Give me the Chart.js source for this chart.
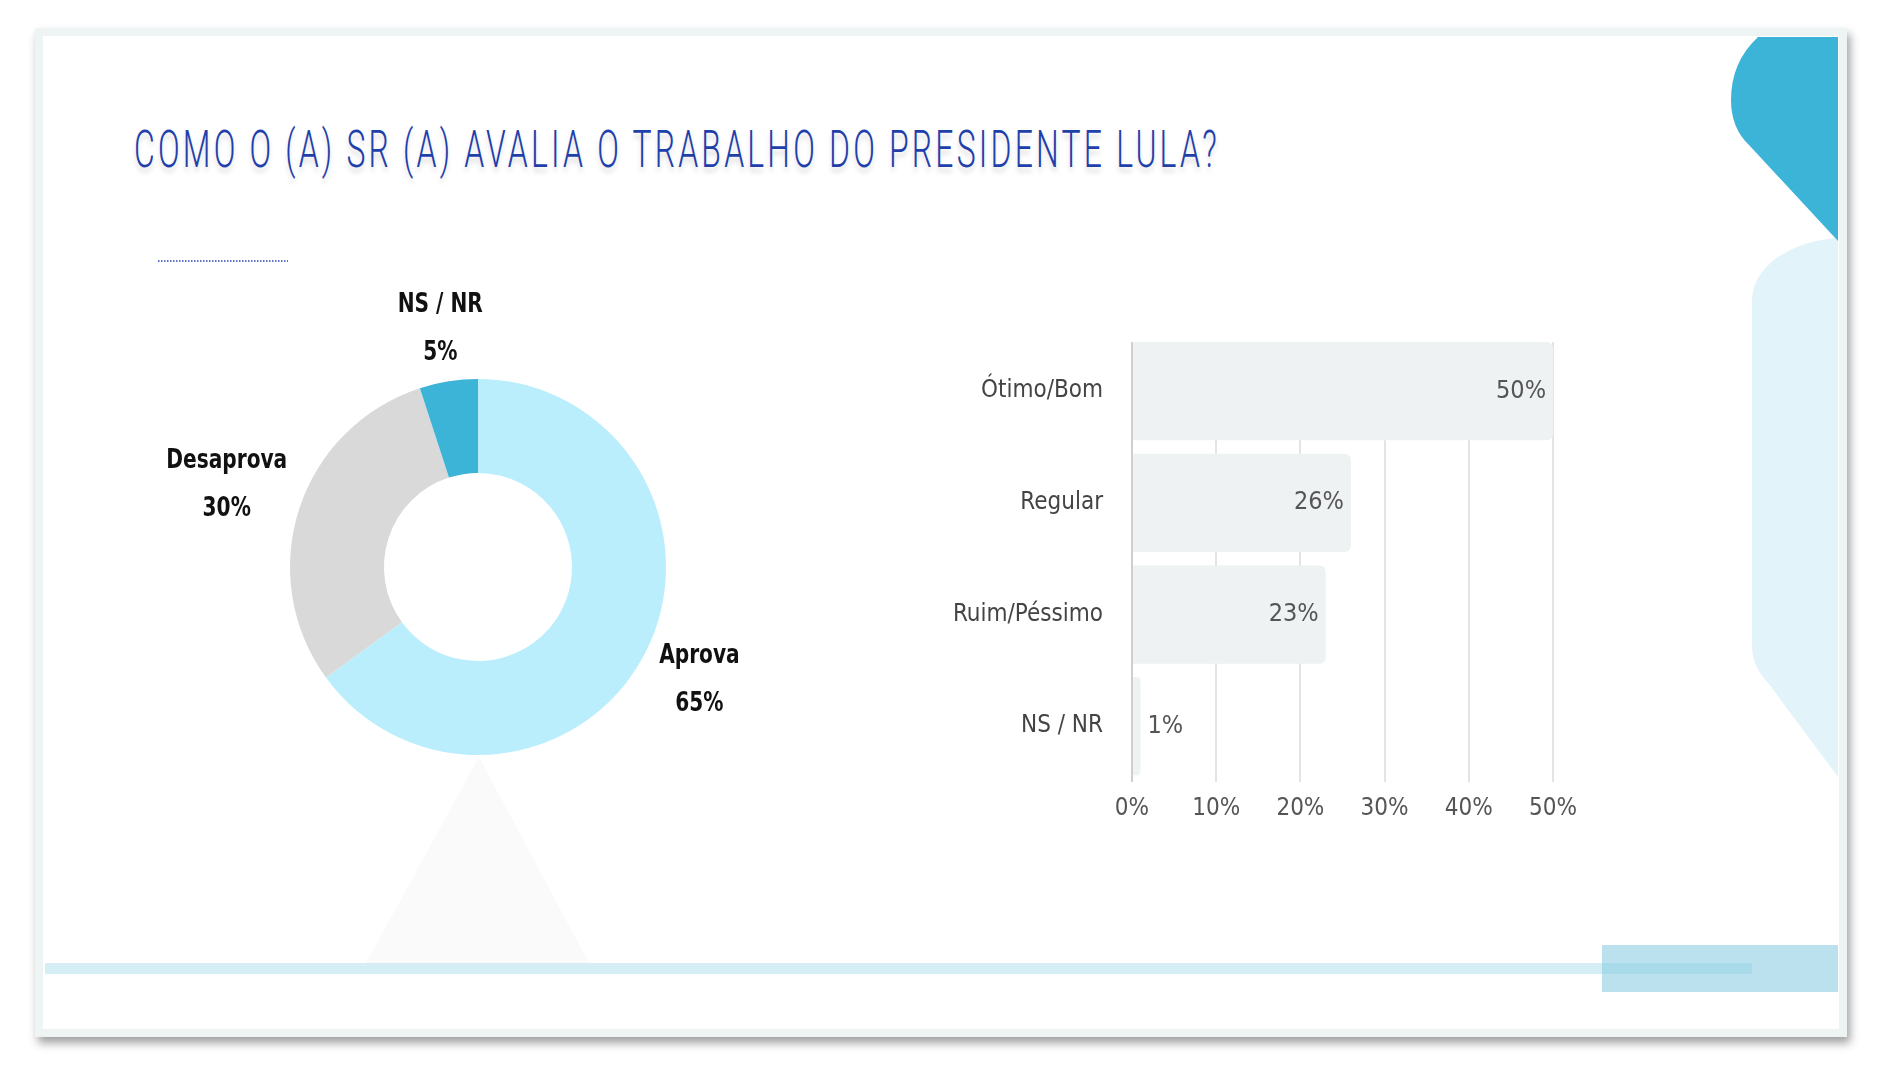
<!DOCTYPE html>
<html>
<head>
<meta charset="utf-8">
<script src="https://cdn.jsdelivr.net/npm/chart.js@4.4.1/dist/chart.umd.min.js"></script>
<style>
  html, body { margin: 0; padding: 0; background: #fff; }
  body { width: 1894px; height: 1080px; position: relative; overflow: hidden; }
  .slide {
    position: absolute; left: 35px; top: 28px; width: 1812px; height: 1009px;
    box-sizing: border-box; border: 8px solid #eef3f3; background: #fff;
    box-shadow: 3px 6px 9px rgba(0, 0, 0, 0.38);
  }
  svg.deco { position: absolute; left: 0; top: 0; }
  .title {
    position: absolute; left: 134px; top: 124px; white-space: nowrap;
    font-family: Roboto, sans-serif; font-weight: 300; font-size: 52px; line-height: 1;
    letter-spacing: 0.1em; color: #1f40ab; transform-origin: 0 0;
    text-shadow: 0 5px 7px rgba(0, 0, 0, 0.14);
  }
  #donutWrap { position: absolute; left: 137px; top: 280px; width: 682px; height: 574px; }
  #barWrap { position: absolute; left: 940px; top: 300px; width: 700px; height: 540px; }
</style>
</head>
<body>
<div class="slide"></div>
<svg class="deco" width="1894" height="1080">
  <!-- faint stand under the donut -->
  <polygon points="479,757 366,963 589,963" fill="#fafafa"/>
  <!-- small dotted rule -->
  <line x1="158" y1="261" x2="288" y2="261" stroke="#5f72c4" stroke-width="2" stroke-dasharray="1.5 1.5"/>
  <!-- right side shapes -->
  <path d="M1838,238 C1798,240 1752,262 1752,302 L1752,645 Q1752,667 1769,684 L1838,777 Z" fill="#e2f4f9"/>
  <path d="M1758,37 L1838,37 L1838,241 L1749,145 Q1731,128 1731,100 Q1731,62 1758,37 Z" fill="#3cb4d7"/>
  <!-- bottom band -->
  <rect x="45" y="963" width="1707" height="11" fill="#d5eef5"/>
  <rect x="1602" y="945" width="236" height="47" fill="rgba(140,205,225,0.6)"/>
</svg>
<div class="title" id="title">COMO O (A) SR (A) AVALIA O TRABALHO DO PRESIDENTE LULA?</div>
<div id="donutWrap"><canvas id="donut"></canvas></div>
<div id="barWrap"><canvas id="bars"></canvas></div>
<script>
// data
const donutLabels = ["Aprova", "Desaprova", "NS / NR"];
const donutValues = [65, 30, 5];
const donutColors = ["#bbeefc", "#d9d9d9", "#3cb4d7"];

const barLabels = ["Ótimo/Bom", "Regular", "Ruim/Péssimo", "NS / NR"];
const barValues = [50, 26, 23, 1];
const barMax = 50;
const barStep = 10;

const FONT = "'DejaVu Sans Condensed', 'DejaVu Sans', sans-serif";

// stretch the title to its width in the slide
const title = document.getElementById("title");
title.style.transform = "scaleX(" + (1086 / title.offsetWidth) + ")";

Chart.defaults.animation = false;
Chart.defaults.devicePixelRatio = 1;

// labels around the donut (two lines, squeezed a bit)
const donutLabelPlugin = {
    id: "donutLabels",
    afterDatasetsDraw(chart) {
        const ctx = chart.ctx;
        const arcs = chart.getDatasetMeta(0).data;
        const sx = 0.83;
        const lineGap = 24;
        ctx.save();
        ctx.font = "bold 27px " + FONT;
        ctx.fillStyle = "#111";
        ctx.textAlign = "center";
        ctx.textBaseline = "middle";
        arcs.forEach((arc, i) => {
            const p = arc.getProps(["x", "y", "startAngle", "endAngle", "outerRadius"], true);
            const mid = (p.startAngle + p.endAngle) / 2;
            const ux = Math.cos(mid);
            const uy = Math.sin(mid);
            const hw = Math.max(ctx.measureText(donutLabels[i]).width, ctx.measureText(donutValues[i] + "%").width) * sx / 2;
            const hh = lineGap + 17;
            const r = p.outerRadius + 6 + Math.abs(ux) * hw + Math.abs(uy) * hh;
            const cx = p.x + ux * r;
            const cy = p.y + uy * r;
            ctx.save();
            ctx.translate(cx, cy);
            ctx.scale(sx, 1);
            ctx.fillText(donutLabels[i], 0, -lineGap);
            ctx.fillText(donutValues[i] + "%", 0, lineGap);
            ctx.restore();
        });
        ctx.restore();
    },
};

new Chart(document.getElementById("donut"), {
    type: "doughnut",
    data: {
        labels: donutLabels,
        datasets: [{
            data: donutValues,
            backgroundColor: donutColors,
            borderWidth: 0,
        }],
    },
    options: {
        responsive: true,
        maintainAspectRatio: false,
        cutout: "50%",
        layout: { padding: { top: 99, bottom: 99, left: 153, right: 153 } },
        plugins: { legend: { display: false }, tooltip: { enabled: false } },
    },
    plugins: [donutLabelPlugin],
});

// gridlines start below the top bar, then value labels on the bars
const barLabelPlugin = {
    id: "barLabels",
    beforeDatasetsDraw(chart) {
        const area = chart.chartArea;
        const first = chart.getDatasetMeta(0).data[0];
        if (!first) return;
        const p = first.getProps(["y", "height"], true);
        const ctx = chart.ctx;
        ctx.save();
        ctx.fillStyle = "#fff";
        ctx.fillRect(area.left - 2, area.top - 2, area.right - area.left + 4, p.y - p.height / 2 - area.top + 2);
        ctx.restore();
    },
    afterDatasetsDraw(chart) {
        const ctx = chart.ctx;
        const bars = chart.getDatasetMeta(0).data;
        ctx.save();
        ctx.font = "25px " + FONT;
        ctx.fillStyle = "#555";
        ctx.textBaseline = "middle";
        bars.forEach((bar, i) => {
            const p = bar.getProps(["x", "y", "base"], true);
            const text = barValues[i] + "%";
            const w = ctx.measureText(text).width;
            if (p.x - p.base > w + 16) {
                ctx.textAlign = "right";
                ctx.fillText(text, p.x - 7, p.y);
            } else {
                ctx.textAlign = "left";
                ctx.fillText(text, p.x + 7, p.y);
            }
        });
        ctx.restore();
    },
};

new Chart(document.getElementById("bars"), {
    type: "bar",
    data: {
        labels: barLabels,
        datasets: [{
            data: barValues,
            backgroundColor: "#eef2f2",
            borderRadius: 6,
            borderSkipped: "start",
            barPercentage: 0.88,
            categoryPercentage: 1,
        }],
    },
    options: {
        indexAxis: "y",
        responsive: true,
        maintainAspectRatio: false,
        layout: { padding: { top: 25, right: 87, left: 0, bottom: 0 } },
        plugins: { legend: { display: false }, tooltip: { enabled: false } },
        scales: {
            x: {
                min: 0,
                max: barMax,
                afterFit: (scale) => { scale.height = 58; },
                border: { display: false },
                grid: {
                    drawTicks: false,
                    lineWidth: 2,
                    color: (c) => (c.tick && c.tick.value === 0 ? "#cfcfcf" : "#e4e4e4"),
                },
                ticks: {
                    stepSize: barStep,
                    padding: 12,
                    color: "#555",
                    font: { family: FONT, size: 24 },
                    callback: (v) => v + "%",
                },
            },
            y: {
                afterFit: (scale) => { scale.width = 192; },
                border: { display: false },
                grid: { display: false },
                ticks: {
                    padding: 21,
                    color: "#444",
                    font: { family: FONT, size: 24 },
                },
            },
        },
    },
    plugins: [barLabelPlugin],
});
</script>
</body>
</html>
